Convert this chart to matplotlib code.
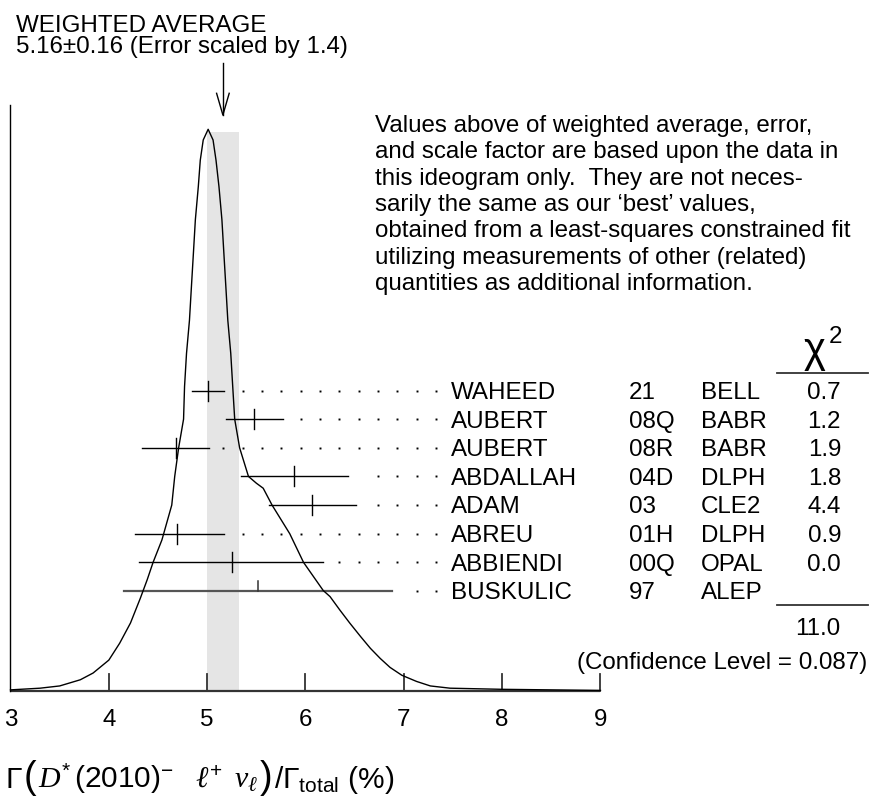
import numpy as np
import matplotlib.pyplot as plt

plt.rcParams['font.family'] = ['Liberation Sans', 'DejaVu Sans']
plt.rcParams['mathtext.fontset'] = 'custom'
plt.rcParams['mathtext.rm'] = 'Liberation Sans'
plt.rcParams['mathtext.it'] = 'Liberation Serif:italic'
plt.rcParams['mathtext.bf'] = 'Liberation Sans:bold'

# Measurements, top row first
authors = ["WAHEED", "AUBERT", "AUBERT", "ABDALLAH", "ADAM", "ABREU", "ABBIENDI", "BUSKULIC"]
years = ["21", "08Q", "08R", "04D", "03", "01H", "00Q", "97"]
experiments = ["BELL", "BABR", "BABR", "DLPH", "CLE2", "DLPH", "OPAL", "ALEP"]
values = [5.01, 5.48, 4.68, 5.88, 6.07, 4.69, 5.25, 5.52]
err_lo = [0.16, 0.29, 0.34, 0.54, 0.44, 0.42, 0.94, 1.37]
err_hi = [0.16, 0.29, 0.34, 0.55, 0.44, 0.48, 0.93, 1.36]
chi2 = ["0.7", "1.2", "1.9", "1.8", "4.4", "0.9", "0.0", ""]
used = [True, True, True, True, True, True, True, False]

avg_value = 5.16
avg_error = 0.16
scale_factor = 1.4
chi2_total = "11.0"
conf_level = "0.087"

# Ideogram curve (height relative to the peak)
curve_x = [3.00, 3.30, 3.50, 3.71, 3.84, 4.00, 4.11, 4.22, 4.32, 4.39, 4.45,
           4.54, 4.64, 4.67, 4.71, 4.76, 4.77, 4.79, 4.82, 4.84, 4.86, 4.88,
           4.91, 4.93, 4.96, 5.01, 5.06, 5.09, 5.12, 5.15, 5.17, 5.19, 5.21,
           5.24, 5.26, 5.28, 5.33, 5.42, 5.50, 5.57, 5.66, 5.84, 5.98, 6.18,
           6.25, 6.35, 6.45, 6.56, 6.66, 6.76, 6.86, 6.98, 7.13, 7.27, 7.47,
           8.00, 9.00]
curve_h = [0.002, 0.005, 0.009, 0.020, 0.032, 0.055, 0.085, 0.121, 0.165, 0.198, 0.229,
           0.269, 0.331, 0.382, 0.433, 0.484, 0.542, 0.601, 0.660, 0.720, 0.779, 0.839,
           0.898, 0.945, 0.981, 1.000, 0.981, 0.945, 0.898, 0.839, 0.779, 0.720, 0.660,
           0.601, 0.542, 0.484, 0.433, 0.382, 0.370, 0.361, 0.331, 0.280, 0.229, 0.179,
           0.168, 0.144, 0.121, 0.097, 0.076, 0.058, 0.042, 0.028, 0.017, 0.009, 0.005,
           0.003, 0.001]

tick_values = [3, 4, 5, 6, 7, 8, 9]

note_lines = [
    "Values above of weighted average, error,",
    "and scale factor are based upon the data in",
    "this ideogram only.  They are not neces-",
    "sarily the same as our \u2018best\u2019 values,",
    "obtained from a least-squares constrained fit",
    "utilizing measurements of other (related)",
    "quantities as additional information.",
]

# x-axis title, written piece by piece so the brackets can be tall
title_pieces = [
    ("\u0393", 21.5, 0),
    ("(", 27, 0),
    (r"$D^{*}\,$(2010)$^{-}\quad\ell^{+}\;\;\nu_{\ell}\,$", 21.5, 0),
    (")", 27, 0),
    (r"/$\Gamma_{\mathrm{total}}$ (%)", 21.5, 0),
]

# Layout (pixels)
X0_PX, PX_PER_UNIT = 10.5, 98.33
AXIS_Y, PEAK_PX = 691.0, 561.7
ROW0_Y, ROW_STEP = 390.7, 28.57
FS = 17.4


def vx(px):
    return 3 + (px - X0_PX) / PX_PER_UNIT


def to_px(v):
    return X0_PX + (v - 3) * PX_PER_UNIT


fig = plt.figure(figsize=(8.69, 7.97), dpi=100)
ax = fig.add_axes([0, 0, 1, 1])
ax.set_xlim(vx(0), vx(869))
ax.set_ylim(797, 0)
ax.axis("off")

# Shaded band of the weighted average
ax.fill_between([avg_value - avg_error, avg_value + avg_error], 131.7, AXIS_Y,
                color="#e5e5e5", lw=0, zorder=0)

# Ideogram
ax.plot(curve_x, AXIS_Y - np.array(curve_h) * PEAK_PX, color="black", lw=1.0, zorder=3)

# Axis and ticks
ax.plot([3, 9], [AXIS_Y, AXIS_Y], color="#333333", lw=1.6, solid_capstyle="butt")
ax.plot([3, 3], [105, AXIS_Y], color="black", lw=1.0)
for t in tick_values[1:]:
    ax.plot([t, t], [AXIS_Y - 17, AXIS_Y], color="#333333", lw=1.3)
for t in tick_values:
    ax.text(t, 726.3, str(t), ha="center", va="baseline", fontsize=FS)

renderer = fig.canvas.get_renderer()
x_px = 5.5
for txt, size, dy in title_pieces:
    piece = ax.text(vx(x_px), 788.5 + dy, txt, ha="left", va="baseline", fontsize=size)
    x_px += piece.get_window_extent(renderer).width + 1.5

# Measurements with dotted leaders
label_px = 450.7
for i in range(len(authors)):
    y = ROW0_Y + ROW_STEP * i
    lo = values[i] - err_lo[i]
    hi = values[i] + err_hi[i]
    if used[i]:
        ax.plot([lo, hi], [y, y], color="black", lw=1.0)
        ax.plot([values[i], values[i]], [y - 10, y + 10], color="black", lw=1.0)
    else:
        ax.plot([lo, hi], [y, y], color="#555555", lw=1.6)
        ax.plot([values[i], values[i]], [y - 10, y], color="#333333", lw=1.1)

    dots = []
    px = label_px - 14.7
    while px > to_px(hi) + 12:
        dots.append(vx(px))
        px -= 19.33
    ax.plot(dots, [y] * len(dots), ls="none", marker="s", ms=1.4, color="black", mew=0)

    base = y + 8.5
    ax.text(vx(label_px), base, authors[i], ha="left", va="baseline", fontsize=FS)
    ax.text(vx(629), base, years[i], ha="left", va="baseline", fontsize=FS)
    ax.text(vx(700.7), base, experiments[i], ha="left", va="baseline", fontsize=FS)
    ax.text(vx(841), base, chi2[i], ha="right", va="baseline", fontsize=FS)

# Chi-square column
ax.text(vx(815), 362, "\u03c7", ha="center", va="baseline", fontsize=30)
ax.text(vx(829), 343, "2", ha="left", va="baseline", fontsize=FS)
ax.plot([vx(776.7), vx(868)], [373.3, 373.3], color="#333333", lw=1.3)
ax.plot([vx(776.7), vx(868)], [605, 605], color="#333333", lw=1.3)
ax.text(vx(840), 635.3, chi2_total, ha="right", va="baseline", fontsize=FS)
ax.text(vx(867.5), 668.5, f"(Confidence Level = {conf_level})", ha="right", va="baseline", fontsize=FS)

# Weighted average header and arrow
ax.text(vx(16.5), 31.7, "WEIGHTED AVERAGE", ha="left", va="baseline", fontsize=FS)
ax.text(vx(16.5), 52.5, f"{avg_value:.2f}\u00b1{avg_error:.2f} (Error scaled by {scale_factor})",
        ha="left", va="baseline", fontsize=FS)
arm = 6.3 / PX_PER_UNIT
ax.plot([avg_value, avg_value], [63, 115], color="black", lw=1.0)
ax.plot([avg_value - arm, avg_value, avg_value + arm], [93.3, 115, 93.3], color="black", lw=1.0)

for k, line in enumerate(note_lines):
    ax.text(vx(375), 131.7 + 26.4 * k, line, ha="left", va="baseline", fontsize=FS)

fig.savefig("out.png", dpi=100)
